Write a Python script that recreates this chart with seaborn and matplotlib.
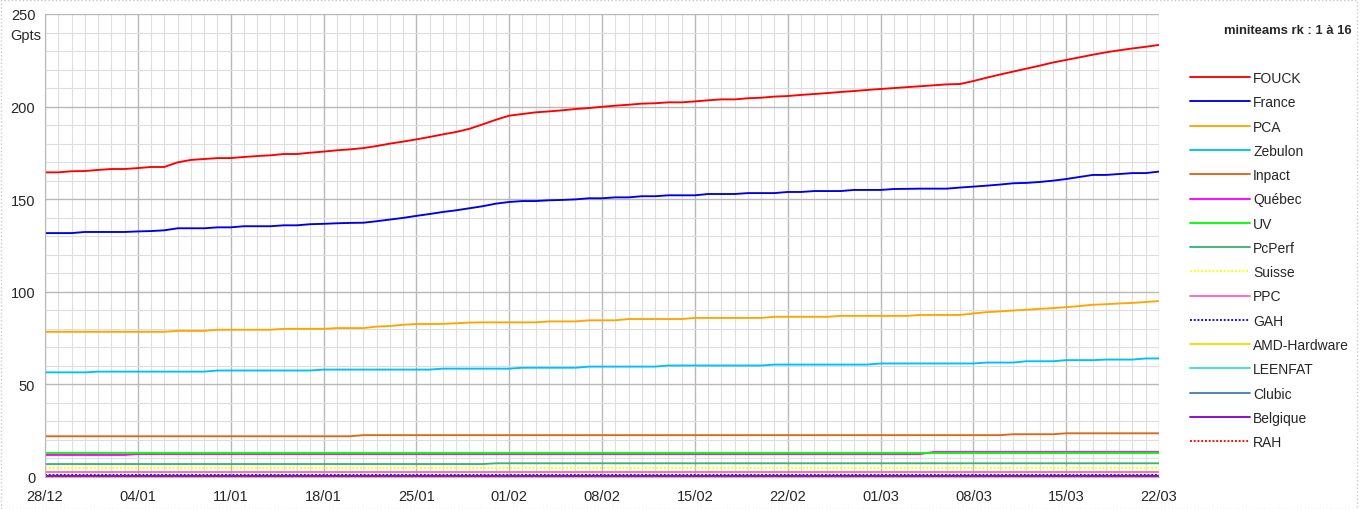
import numpy as np
import pandas as pd
import seaborn as sns
import matplotlib.pyplot as plt
import matplotlib.dates as mdates
from matplotlib.patches import Rectangle

# ---- data (Gpts per day, 28/12 -> 22/03) ----
start = pd.Timestamp('2006-12-28')
n_days = 85

fouck = [164.5, 164.5, 165.1, 165.2, 165.8, 166.3, 166.3, 166.8, 167.4, 167.4,
         169.9, 171.2, 171.7, 172.2, 172.2, 172.8, 173.3, 173.7, 174.4, 174.4,
         175.1, 175.7, 176.4, 176.9, 177.6, 178.7, 180.0, 181.1, 182.3, 183.6,
         185.0, 186.3, 188.0, 190.4, 192.9, 195.1, 196.0, 196.9, 197.4, 198.0,
         198.7, 199.2, 199.9, 200.5, 201.0, 201.6, 201.8, 202.3, 202.3, 202.8,
         203.4, 203.9, 203.9, 204.5, 204.8, 205.4, 205.7, 206.3, 206.8, 207.3,
         207.9, 208.4, 209.0, 209.5, 210.0, 210.5, 211.0, 211.5, 212.0, 212.2,
         213.8, 215.6, 217.3, 218.9, 220.5, 222.1, 223.8, 225.2, 226.6, 228.0,
         229.3, 230.4, 231.4, 232.3, 233.3]

france = [131.7, 131.7, 131.7, 132.3, 132.3, 132.3, 132.3, 132.6, 132.8, 133.2,
          134.3, 134.3, 134.3, 134.8, 134.8, 135.4, 135.4, 135.4, 135.9, 135.9,
          136.5, 136.7, 137.0, 137.2, 137.3, 138.1, 139.0, 139.9, 141.0, 142.0,
          143.1, 144.0, 145.1, 146.2, 147.6, 148.5, 149.0, 149.0, 149.4, 149.6,
          149.9, 150.5, 150.5, 151.0, 151.0, 151.6, 151.6, 152.1, 152.1, 152.1,
          152.8, 152.8, 152.8, 153.3, 153.3, 153.3, 153.9, 153.9, 154.4, 154.4,
          154.4, 155.0, 155.0, 155.0, 155.5, 155.6, 155.7, 155.7, 155.7, 156.3,
          156.8, 157.3, 157.9, 158.6, 158.8, 159.3, 160.0, 160.9, 162.0, 163.1,
          163.1, 163.6, 164.1, 164.1, 164.9]

pca = [78.4, 78.4, 78.4, 78.4, 78.4, 78.4, 78.4, 78.4, 78.4, 78.4,
       78.9, 78.9, 78.9, 79.5, 79.5, 79.5, 79.5, 79.5, 80.0, 80.0,
       80.0, 80.0, 80.4, 80.4, 80.4, 81.2, 81.5, 82.2, 82.6, 82.6,
       82.7, 83.0, 83.4, 83.5, 83.5, 83.5, 83.5, 83.5, 84.0, 84.0,
       84.0, 84.6, 84.6, 84.6, 85.3, 85.3, 85.3, 85.3, 85.3, 85.9,
       85.9, 85.9, 85.9, 85.9, 85.9, 86.5, 86.5, 86.5, 86.5, 86.5,
       87.0, 87.0, 87.0, 87.0, 87.0, 87.0, 87.5, 87.5, 87.5, 87.5,
       88.3, 89.0, 89.4, 89.9, 90.3, 90.8, 91.2, 91.7, 92.3, 93.0,
       93.3, 93.7, 94.0, 94.5, 95.0]

zebulon = [56.5, 56.5, 56.5, 56.5, 56.9, 56.9, 56.9, 56.9, 56.9, 56.9,
           56.9, 56.9, 56.9, 57.5, 57.5, 57.5, 57.5, 57.5, 57.5, 57.5,
           57.5, 58.0, 58.0, 58.0, 58.0, 58.0, 58.0, 58.0, 58.0, 58.0,
           58.5, 58.5, 58.5, 58.5, 58.5, 58.5, 59.0, 59.0, 59.0, 59.0,
           59.0, 59.6, 59.6, 59.6, 59.6, 59.6, 59.6, 60.2, 60.2, 60.2,
           60.2, 60.2, 60.2, 60.2, 60.2, 60.7, 60.7, 60.7, 60.7, 60.7,
           60.7, 60.7, 60.7, 61.3, 61.3, 61.3, 61.3, 61.3, 61.3, 61.3,
           61.3, 61.8, 61.8, 61.8, 62.5, 62.5, 62.5, 63.1, 63.1, 63.1,
           63.4, 63.4, 63.4, 64.0, 64.0]

# low, nearly flat teams: (day index, value) where the line changes
inpact_days, inpact = [0, 23, 24, 72, 73, 76, 77, 84], [22.0, 22.0, 22.6, 22.6, 23.1, 23.1, 23.6, 23.6]
quebec_days, quebec = [0, 6, 7, 66, 67, 84], [11.9, 11.9, 12.4, 12.4, 13.5, 13.5]
uv_days, uv = [0, 84], [12.9, 12.9]
pcperf_days, pcperf = [0, 33, 34, 84], [7.0, 7.0, 7.4, 7.4]
suisse_days, suisse = [0, 84], [4.8, 4.8]
ppc_days, ppc = [0, 84], [2.8, 2.8]
gah_days, gah = [0, 84], [1.0, 1.0]
amd_days, amd = [0, 84], [0.5, 0.5]
leenfat_days, leenfat = [0, 84], [0.3, 0.3]
clubic_days, clubic = [0, 84], [0.4, 0.4]
belgique_days, belgique = [0, 84], [0.7, 0.7]
rah_days, rah = [0, 84], [0.2, 0.2]

all_days = list(range(n_days))
series = [
    ('FOUCK', all_days, fouck, '#ff0000', ''),
    ('France', all_days, france, '#0000e6', ''),
    ('PCA', all_days, pca, '#ffa500', ''),
    ('Zebulon', all_days, zebulon, '#00bfff', ''),
    ('Inpact', inpact_days, inpact, '#e0661a', ''),
    ('Québec', quebec_days, quebec, '#ff00ff', ''),
    ('UV', uv_days, uv, '#00ff00', ''),
    ('PcPerf', pcperf_days, pcperf, '#3cb371', ''),
    ('Suisse', suisse_days, suisse, '#ffff00', (1, 1)),
    ('PPC', ppc_days, ppc, '#ff69b4', ''),
    ('GAH', gah_days, gah, '#0000ff', (1, 1)),
    ('AMD-Hardware', amd_days, amd, '#ffd700', ''),
    ('LEENFAT', leenfat_days, leenfat, '#40e0d0', ''),
    ('Clubic', clubic_days, clubic, '#4682b4', ''),
    ('Belgique', belgique_days, belgique, '#9400d3', ''),
    ('RAH', rah_days, rah, '#ff0000', (1, 1)),
]

rows = []
for name, days, vals, _, _ in series:
    for d, v in zip(days, vals):
        rows.append({'date': start + pd.Timedelta(days=d), 'Gpts': v, 'team': name})
df = pd.DataFrame(rows)

teams = [s[0] for s in series]
palette = {s[0]: s[3] for s in series}
dashes = {s[0]: s[4] for s in series}

sns.set_style('white')
plt.rcParams['font.family'] = ['Liberation Sans', 'DejaVu Sans']

fig = plt.figure(figsize=(13.61, 5.10), dpi=100)
ax = fig.add_axes([45 / 1361, 1 - 478 / 510, (1159 - 45) / 1361, (478 - 15) / 510])

sns.lineplot(data=df, x='date', y='Gpts', hue='team', style='team',
             hue_order=teams, style_order=teams, palette=palette, dashes=dashes,
             linewidth=1.35, ax=ax)

dates = pd.date_range(start, periods=n_days, freq='D')
ax.set_xlim(dates[0], dates[-1])
ax.set_ylim(0, 250)
ax.set_xticks(dates[::7])
ax.set_xticks(dates, minor=True)
ax.xaxis.set_major_formatter(mdates.DateFormatter('%d/%m'))
ax.set_yticks(np.arange(0, 251, 50))
ax.set_yticks(np.arange(0, 251, 10), minor=True)

ax.grid(which='major', color='#b8b8b8', linewidth=1.0)
ax.grid(which='minor', color='#dedede', linewidth=0.8)
ax.set_axisbelow(True)
for side in ['top', 'right']:
    ax.spines[side].set_visible(False)
for side in ['left', 'bottom']:
    ax.spines[side].set_color('#b8b8b8')
ax.tick_params(which='major', length=6, color='#b8b8b8', labelsize=10.5)
ax.tick_params(axis='y', pad=1)
ax.tick_params(axis='x', pad=3)
ax.tick_params(which='minor', length=0)
ax.set_xlabel('')
ax.set_ylabel('')

fig.text(26 / 1361, 1 - 36 / 510, 'Gpts', ha='center', va='center', fontsize=10.5)
fig.text(1352 / 1361, 1 - 31 / 510, 'miniteams rk : 1 à 16', ha='right', va='center',
         fontsize=9.4, fontweight='bold')

handles, labels = ax.get_legend_handles_labels()
ax.legend(handles, labels, loc='upper left', bbox_to_anchor=(1190 / 1361, 1 - 72 / 510),
          bbox_transform=fig.transFigure, frameon=False, fontsize=10,
          handlelength=4.3, handletextpad=0.25, labelspacing=0.74,
          borderpad=0, borderaxespad=0)

fig.patches.append(Rectangle((0.5 / 1361, 0.5 / 510), 1356 / 1361, 509 / 510,
                             transform=fig.transFigure, fill=False,
                             edgecolor='#c8c8c8', linestyle=':', linewidth=1))

fig.savefig('out.png', dpi=100)
